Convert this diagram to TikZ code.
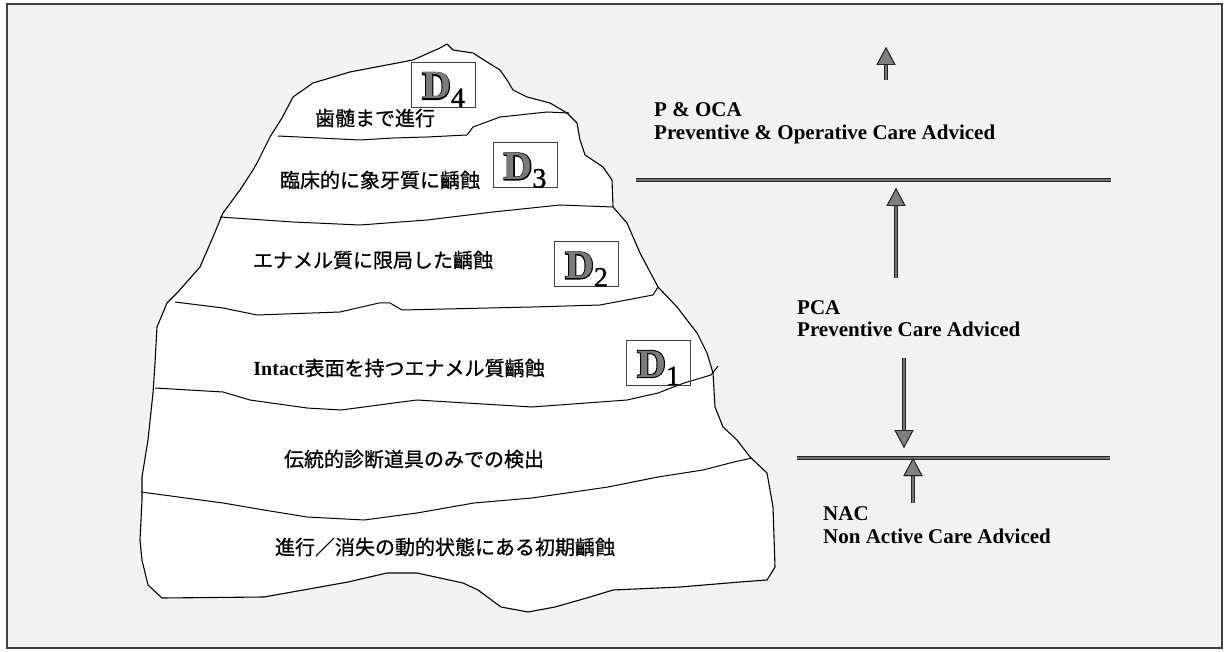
\documentclass[tikz,border=0pt]{standalone}
\usepackage{fontspec}
\setmainfont{Liberation Serif}
\newfontfamily\jpfont{Noto Sans CJK JP}[FakeBold=0.8]
\newfontfamily\dstroke{Liberation Serif Bold}[FakeBold=5]
\newfontfamily\dface{Liberation Serif Bold}
\newfontfamily\dindex{Liberation Serif}[FakeBold=1.2]
\usetikzlibrary{arrows.meta}

\definecolor{dfill}{gray}{0.48}
% outlined stage letter: a widened black D under a grey D, then a lowered index
\newcommand\hollowD{\rlap{\dstroke D}{\dface\color{dfill}D}}
\newcommand\dlabel[1]{{\fontsize{40}{40}\selectfont\hollowD}\raisebox{-8pt}{\fontsize{28}{28}\selectfont\dindex #1}}

\begin{document}
\begin{tikzpicture}[x=1pt,y=-1pt,
  outline/.style={draw=black, line width=1.1pt, line join=round},
  layer/.style={draw=black, line width=1pt, line join=round},
  jp/.style={font=\jpfont\fontsize{20}{20}\selectfont, inner sep=0pt, text height=17.6pt, text depth=2.4pt},
  en/.style={font=\fontsize{21}{21}\selectfont\bfseries, inner sep=0pt, anchor=base west},
  dbox/.style={draw=black!75, line width=0.8pt, inner sep=0pt, minimum width=64pt, text height=37pt, text depth=8pt},
  bar/.style={draw=black!55, line width=2.6pt, preaction={draw=black!85, line width=4.6pt}},
  blockarrow/.style={draw=black!55, line width=2.2pt, preaction={draw=black!85, line width=4.4pt},
    -{Triangle[width=19pt,length=18pt,fill=black!50,color=black!85,line width=0.9pt]}}
]
\useasboundingbox (0,0) rectangle (1226,652);

% frame with stippled-grey backdrop
\draw[draw=black!75, line width=1.5pt, fill=black!5] (7,4) rectangle (1222,648);

% iceberg body
\draw[outline, fill=white]
  (447,44) -- (453,50) -- (473,53) -- (487,62) -- (500,70) -- (507,80) -- (513,90)
  -- (527,97) -- (550,103) -- (567,113) -- (577,123) -- (580,140) -- (585,155)
  -- (603,167) -- (612,180) -- (613,207) -- (627,223) -- (640,253) -- (658,287)
  -- (677,307) -- (697,333) -- (707,353) -- (713,373) -- (715,407) -- (723,427)
  -- (737,440) -- (750,457) -- (767,473) -- (773,507) -- (775,567) -- (767,580)
  -- (740,582) -- (680,587) -- (613,590) -- (590,597) -- (555,607) -- (528,612)
  -- (501,607) -- (478,590) -- (463,583) -- (417,573) -- (387,573) -- (348,582)
  -- (264,597) -- (162,598) -- (148,585) -- (142,560) -- (140,540) -- (142,500)
  -- (142,477) -- (148,440) -- (153,393) -- (155,363) -- (157,327) -- (167,303)
  -- (177,293) -- (200,267) -- (213,237) -- (223,213) -- (240,190) -- (253,170)
  -- (257,163) -- (270,137) -- (282,118) -- (293,97) -- (313,83) -- (350,72)
  -- (413,60) -- (440,48) -- cycle;

% layer boundaries
\draw[layer] (278,136) -- (360,140) -- (393,138) -- (427,137) -- (467,135) -- (473,127)
  -- (500,117) -- (547,112) -- (569,113);
\draw[layer] (220,217) -- (293,222) -- (360,225) -- (427,220) -- (493,212) -- (560,205) -- (613,207);
\draw[layer] (175,302) -- (223,308) -- (257,315) -- (340,312) -- (379,303) -- (390,303)
  -- (402,310) -- (532,307) -- (600,305) -- (653,295) -- (658,287);
\draw[layer] (155,388) -- (223,392) -- (250,400) -- (307,408) -- (341,410) -- (394,403)
  -- (417,400) -- (532,407) -- (627,400) -- (658,393) -- (684,383) -- (711,375) -- (718,366);
\draw[layer] (141,492) -- (223,503) -- (264,510) -- (307,517) -- (364,520) -- (417,513)
  -- (474,503) -- (532,498) -- (608,487) -- (658,477) -- (703,470) -- (734,462) -- (752,458);

% layer texts
\node[jp] (t4) at (375,118) {歯髄まで進行};
\node[jp] (t3) at (380,180) {臨床的に象牙質に齲蝕};
\node[jp] (t2) at (373,260) {エナメル質に限局した齲蝕};
\node[jp] (t1) at (399,368) {{\rmfamily\bfseries Intact}表面を持つエナメル質齲蝕};
\node[jp] (t0) at (414,459) {伝統的診断道具のみでの検出};
\node[jp] (tb) at (445,547) {進行／消失の動的状態にある初期齲蝕};

% stage boxes
\node[dbox] (d4) at (443.5,84.5) {\dlabel{4}};
\node[dbox] (d3) at (525,165) {\dlabel{3}};
\node[dbox] (d2) at (586.5,264) {\dlabel{2}};
\node[dbox] (d1) at (658.5,362.5) {\dlabel{1}};

% care thresholds
\coordinate (upbar-w) at (636,180);
\coordinate (upbar-e) at (1111,180);
\coordinate (lowbar-w) at (797,458);
\coordinate (lowbar-e) at (1110,458);
\draw[bar] (upbar-w) -- (upbar-e);
\draw[bar] (lowbar-w) -- (lowbar-e);

% care labels
\node[en] (poca) at (654,117) {P \& OCA};
\node[en] (pocatext) at (654,140) {Preventive \& Operative Care Adviced};
\node[en] (pca) at (797,314) {PCA};
\node[en] (pcatext) at (797,337) {Preventive Care Adviced};
\node[en] (nac) at (823,520) {NAC};
\node[en] (nactext) at (823,543) {Non Active Care Adviced};

% direction arrows
\coordinate (a1-tail) at (886,80);
\coordinate (a1-tip) at (886,47);
\coordinate (a2-tail) at (896,278);
\coordinate (a2-tip) at (896,188);
\coordinate (a3-tail) at (904,358);
\coordinate (a3-tip) at (904,448);
\coordinate (a4-tail) at (913,503);
\coordinate (a4-tip) at (913,458);
\draw[blockarrow] (a1-tail) -- (a1-tip);
\draw[blockarrow] (a2-tail) -- (a2-tip);
\draw[blockarrow] (a3-tail) -- (a3-tip);
\draw[blockarrow] (a4-tail) -- (a4-tip);
\end{tikzpicture}
\end{document}
